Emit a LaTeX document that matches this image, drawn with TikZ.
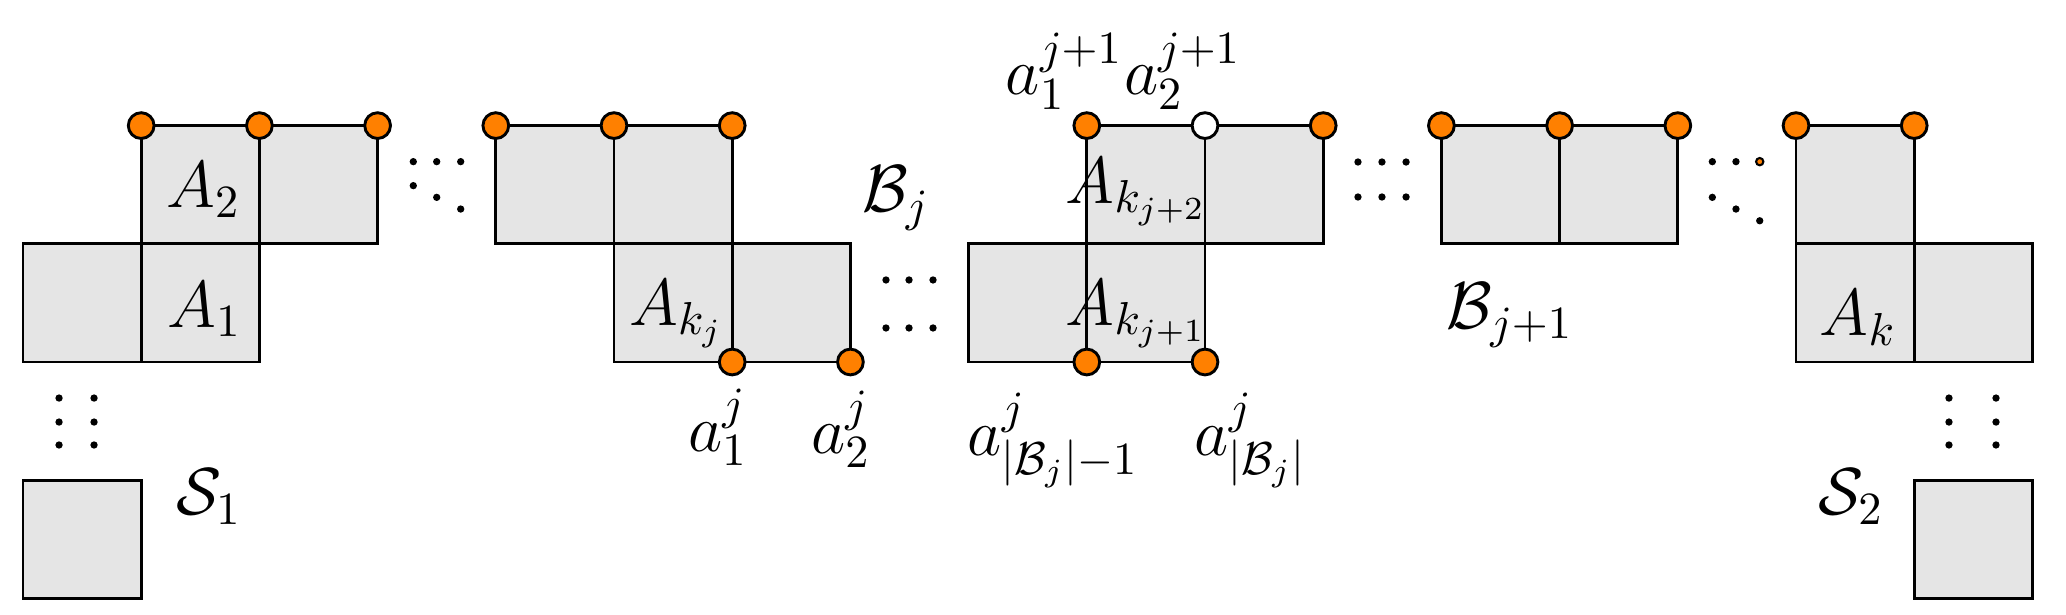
\documentclass[tikz,border=0pt]{standalone}
\definecolor{vorange}{RGB}{255,128,0}
\definecolor{cellgray}{RGB}{229,229,229}
\tikzset{
  cellfill/.style={fill=cellgray},
  celldraw/.style={draw=black, line width=0.7pt},
  vtx/.style={circle, draw=black, fill=vorange, line width=0.7pt, minimum size=0.218cm, inner sep=0pt},
  wvtx/.style={vtx, fill=white},
  ell/.style={circle, fill=black, inner sep=0pt, minimum size=0.062cm},
  lbl/.style={inner sep=0pt, anchor=base, font=\Large, scale=1.111},
}
\begin{document}
\begin{tikzpicture}[x=1cm,y=1cm]
\useasboundingbox (-0.1946,-2.132) rectangle (17.284,3.0626);
% cells
\foreach \c/\r in {1/1,2/1,0/0,1/0,0/-2, 4/1,5/1,5/0,6/0, 9/1,10/1,8/0,9/0, 12/1,13/1, 15/1,15/0,16/0,16/-2}
  \fill[cellfill] (\c,\r) rectangle ++(1,1);
\foreach \c/\r in {1/1,2/1,0/0,1/0,0/-2, 4/1,5/1,5/0,6/0, 9/1,10/1,8/0,9/0, 12/1,13/1, 15/1,15/0,16/0,16/-2}
  \draw[celldraw] (\c,\r) rectangle ++(1,1);
% vertices
\node[vtx] (v1) at (1,2) {};
\node[vtx] (v2) at (2,2) {};
\node[vtx] (v3) at (3,2) {};
\node[vtx] (v4) at (4,2) {};
\node[vtx] (v5) at (5,2) {};
\node[vtx] (v6) at (6,2) {};
\node[vtx] (a1j) at (6,0) {};
\node[vtx] (a2j) at (7,0) {};
\node[vtx] (a1jj) at (9,2) {};
\node[wvtx] (a2jj) at (10,2) {};
\node[vtx] (v11) at (11,2) {};
\node[vtx] (aBm) at (9,0) {};
\node[vtx] (aB) at (10,0) {};
\node[vtx] (v12) at (12,2) {};
\node[vtx] (v13) at (13,2) {};
\node[vtx] (v14) at (14,2) {};
\node[vtx] (v15) at (15,2) {};
\node[vtx] (v16) at (16,2) {};
% ellipsis dots
\foreach \x/\y [count=\i] in {3.302/1.695,3.500/1.695,3.703/1.695,3.302/1.492,3.500/1.393,3.703/1.294}
  \node[ell] (da\i) at (\x,\y) {};
\foreach \x/\y [count=\i] in {7.301/0.694,7.496/0.694,7.699/0.694,7.301/0.288,7.496/0.288,7.699/0.288}
  \node[ell] (db\i) at (\x,\y) {};
\foreach \x/\y [count=\i] in {11.294/1.692,11.497/1.692,11.701/1.692,11.294/1.396,11.497/1.396,11.701/1.396}
  \node[ell] (dc\i) at (\x,\y) {};
\foreach \x/\y [count=\i] in {14.292/1.695,14.492/1.695,14.292/1.393,14.492/1.294,14.693/1.195}
  \node[ell] (dd\i) at (\x,\y) {};
\node[ell, fill=vorange, draw=black, line width=0.5pt] (dd6) at (14.693,1.695) {};
\foreach \x/\y [count=\i] in {0.305/-0.305,0.601/-0.305,0.305/-0.508,0.601/-0.508,0.305/-0.702,0.601/-0.702}
  \node[ell] (de\i) at (\x,\y) {};
\foreach \x/\y [count=\i] in {16.294/-0.305,16.692/-0.305,16.294/-0.508,16.692/-0.508,16.294/-0.702,16.692/-0.702}
  \node[ell] (df\i) at (\x,\y) {};
% labels
\node[lbl] (lA2) at (1.527,1.311) {$A_2$};
\node[lbl] (lA1) at (1.536,0.296) {$A_1$};
\node[lbl] (lS1) at (1.574,-1.294) {$\mathcal{S}_1$};
\node[lbl] (lAkj) at (5.529,0.313) {$A_{k_j}$};
\node[lbl] (lBj) at (7.386,1.272) {$\mathcal{B}_j$};
\node[lbl] (la1j) at (5.880,-0.759) {$a_1^j$};
\node[lbl] (la2j) at (6.920,-0.770) {$a_2^j$};
\node[lbl] (lAkj2) at (9.421,1.345) {$A_{k_{j+2}}$};
\node[lbl] (lAkj1) at (9.421,0.313) {$A_{k_{j+1}}$};
\node[lbl] (la1jj) at (8.811,2.259) {$a_1^{j+1}$};
\node[lbl] (la2jj) at (9.810,2.259) {$a_2^{j+1}$};
\node[lbl] (laBm) at (8.714,-0.787) {$a^j_{|\mathcal{B}_j|-1}$};
\node[lbl] (laB) at (10.385,-0.787) {$a^j_{|\mathcal{B}_j|}$};
\node[lbl] (lBjj) at (12.580,0.285) {$\mathcal{B}_{j+1}$};
\node[lbl] (lAk) at (15.525,0.228) {$A_k$};
\node[lbl] (lS2) at (15.465,-1.294) {$\mathcal{S}_2$};
\end{tikzpicture}
\end{document}
